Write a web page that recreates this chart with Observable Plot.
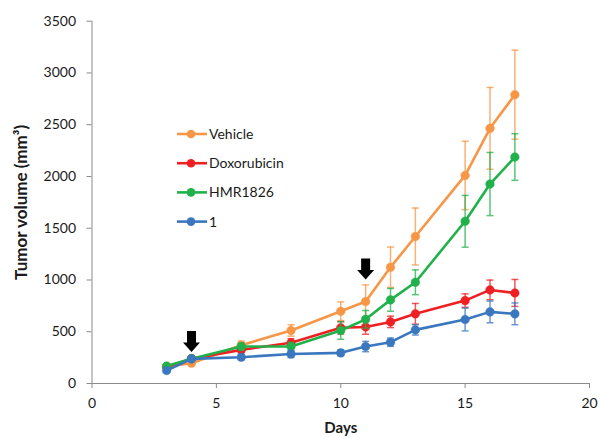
<!DOCTYPE html>
<html><head><meta charset="utf-8">
<script src="https://cdn.jsdelivr.net/npm/d3@7"></script>
<script src="https://cdn.jsdelivr.net/npm/@observablehq/plot@0.6"></script>
<style>
body{margin:0;background:#fff;}
#chart{position:relative;width:600px;height:438px;font-family:Lato,sans-serif;}
#chart svg text{font-family:Lato,sans-serif;}
g[aria-label="x-axis label"] text{font-weight:bold;font-size:15px;}
g[aria-label="y-axis label"] text{font-weight:bold;font-size:17px;}
#legend{position:absolute;left:0;top:0;pointer-events:none;}
</style></head><body><div id="chart"></div>
<script>
const days = [3, 4, 6, 8, 10, 11, 12, 13, 15, 16, 17];
const seriesNames = ["Vehicle", "Doxorubicin", "HMR1826", "1"];
const seriesColors = ["#f79646", "#ee2024", "#21b14b", "#3a77bf"];
const vehicle      = [165, 195, 370, 512, 698, 792, 1123, 1420, 2010, 2465, 2790];
const vehicleErr   = [15, 20, 40, 55, 90, 160, 195, 275, 330, 395, 430];
const doxorubicin  = [160, 240, 325, 393, 538, 546, 595, 673, 801, 904, 875];
const doxErr       = [15, 20, 30, 40, 60, 70, 55, 100, 65, 95, 130];
const hmr1826      = [168, 240, 357, 357, 512, 620, 808, 978, 1567, 1927, 2188];
const hmrErr       = [15, 20, 35, 40, 85, 85, 110, 120, 250, 305, 225];
const compound1    = [125, 238, 254, 285, 296, 357, 399, 518, 618, 692, 673];
const compound1Err = [15, 20, 25, 35, 30, 50, 40, 50, 110, 105, 105];
const treatmentDays = [4, 11];
const arrowLevels = [406, 1106];
const xTicks = [0, 5, 10, 15, 20];
const yTicks = [0, 500, 1000, 1500, 2000, 2500, 3000, 3500];

const values = [vehicle, doxorubicin, hmr1826, compound1];
const errs = [vehicleErr, doxErr, hmrErr, compound1Err];
const rows = [];
seriesNames.forEach((s, i) => days.forEach((d, j) => rows.push({series: s, day: d, v: values[i][j], e: errs[i][j], k: i})));
const arrows = treatmentDays.map((d, i) => ({day: d, y: arrowLevels[i]}));

const capSymbol = {draw(ctx){ ctx.moveTo(-3.5, 0); ctx.lineTo(3.5, 0); }};
const arrowSymbol = {draw(ctx){
  ctx.moveTo(-4.5, -10.5); ctx.lineTo(4.5, -10.5); ctx.lineTo(4.5, 1); ctx.lineTo(8.5, 1);
  ctx.lineTo(0, 10.5); ctx.lineTo(-8.5, 1); ctx.lineTo(-4.5, 1); ctx.closePath();
}};

const marks = [
  Plot.ruleY([0], {stroke: "#8a8a8a", strokeWidth: 1}),
  Plot.ruleX([0], {stroke: "#8a8a8a", strokeWidth: 1}),
  Plot.axisX({ticks: xTicks, tickFormat: d3.format("d"), tickSize: 5, tickPadding: 10, stroke: "#8a8a8a", fill: "#1a1a1a", fontSize: 14,
    label: "Days", labelAnchor: "center", labelArrow: "none", labelOffset: 49}),
  Plot.axisY({ticks: yTicks, tickFormat: d3.format("d"), tickSize: 5, tickPadding: 11, stroke: "#8a8a8a", fill: "#1a1a1a", fontSize: 14,
    label: "Tumor volume (mm³)", labelAnchor: "center", labelArrow: "none", labelOffset: 77})
];
seriesNames.forEach((s, i) => {
  const data = rows.filter(r => r.k === i);
  const c = seriesColors[i];
  marks.push(
    Plot.ruleX(data, {x: "day", y1: d => d.v - d.e, y2: d => d.v + d.e, stroke: c, strokeWidth: 1.5, strokeOpacity: 0.75}),
    Plot.dot(data, {x: "day", y: d => d.v + d.e, symbol: capSymbol, stroke: c, strokeWidth: 1.5, strokeOpacity: 0.75, fill: "none"}),
    Plot.dot(data, {x: "day", y: d => d.v - d.e, symbol: capSymbol, stroke: c, strokeWidth: 1.5, strokeOpacity: 0.75, fill: "none"}),
    Plot.line(data, {x: "day", y: "v", stroke: c, strokeWidth: 2.6}),
    Plot.dot(data, {x: "day", y: "v", r: 4.3, fill: c, stroke: c, strokeWidth: 0.5})
  );
});
marks.push(Plot.dot(arrows, {x: "day", y: "y", symbol: arrowSymbol, fill: "black", stroke: "none"}));

const plot = Plot.plot({
  width: 600, height: 438,
  marginLeft: 91.5, marginRight: 11, marginTop: 20.7, marginBottom: 55,
  style: {fontFamily: "Lato, sans-serif", fontSize: "14px", color: "#1a1a1a", background: "#fff"},
  x: {domain: [0, 20]},
  y: {domain: [0, 3500]},
  marks
});
const chart = document.getElementById("chart");
chart.appendChild(plot);

// legend
const lg = d3.select(chart).append("svg").attr("id", "legend").attr("width", 600).attr("height", 438);
seriesNames.forEach((s, i) => {
  const cy = 134 + i * 29.2;
  const g = lg.append("g").attr("transform", `translate(0,${cy})`);
  g.append("line").attr("x1", 177).attr("x2", 207).attr("y1", 0).attr("y2", 0).attr("stroke", seriesColors[i]).attr("stroke-width", 2.6);
  g.append("circle").attr("cx", 191).attr("cy", 0).attr("r", 4.3).attr("fill", seriesColors[i]);
  g.append("text").attr("x", 209).attr("y", 0).attr("dy", "0.35em").attr("font-size", 14).attr("fill", "#1a1a1a")
    .style("font-family", "Lato, sans-serif").text(s);
});
</script>
</body></html>
